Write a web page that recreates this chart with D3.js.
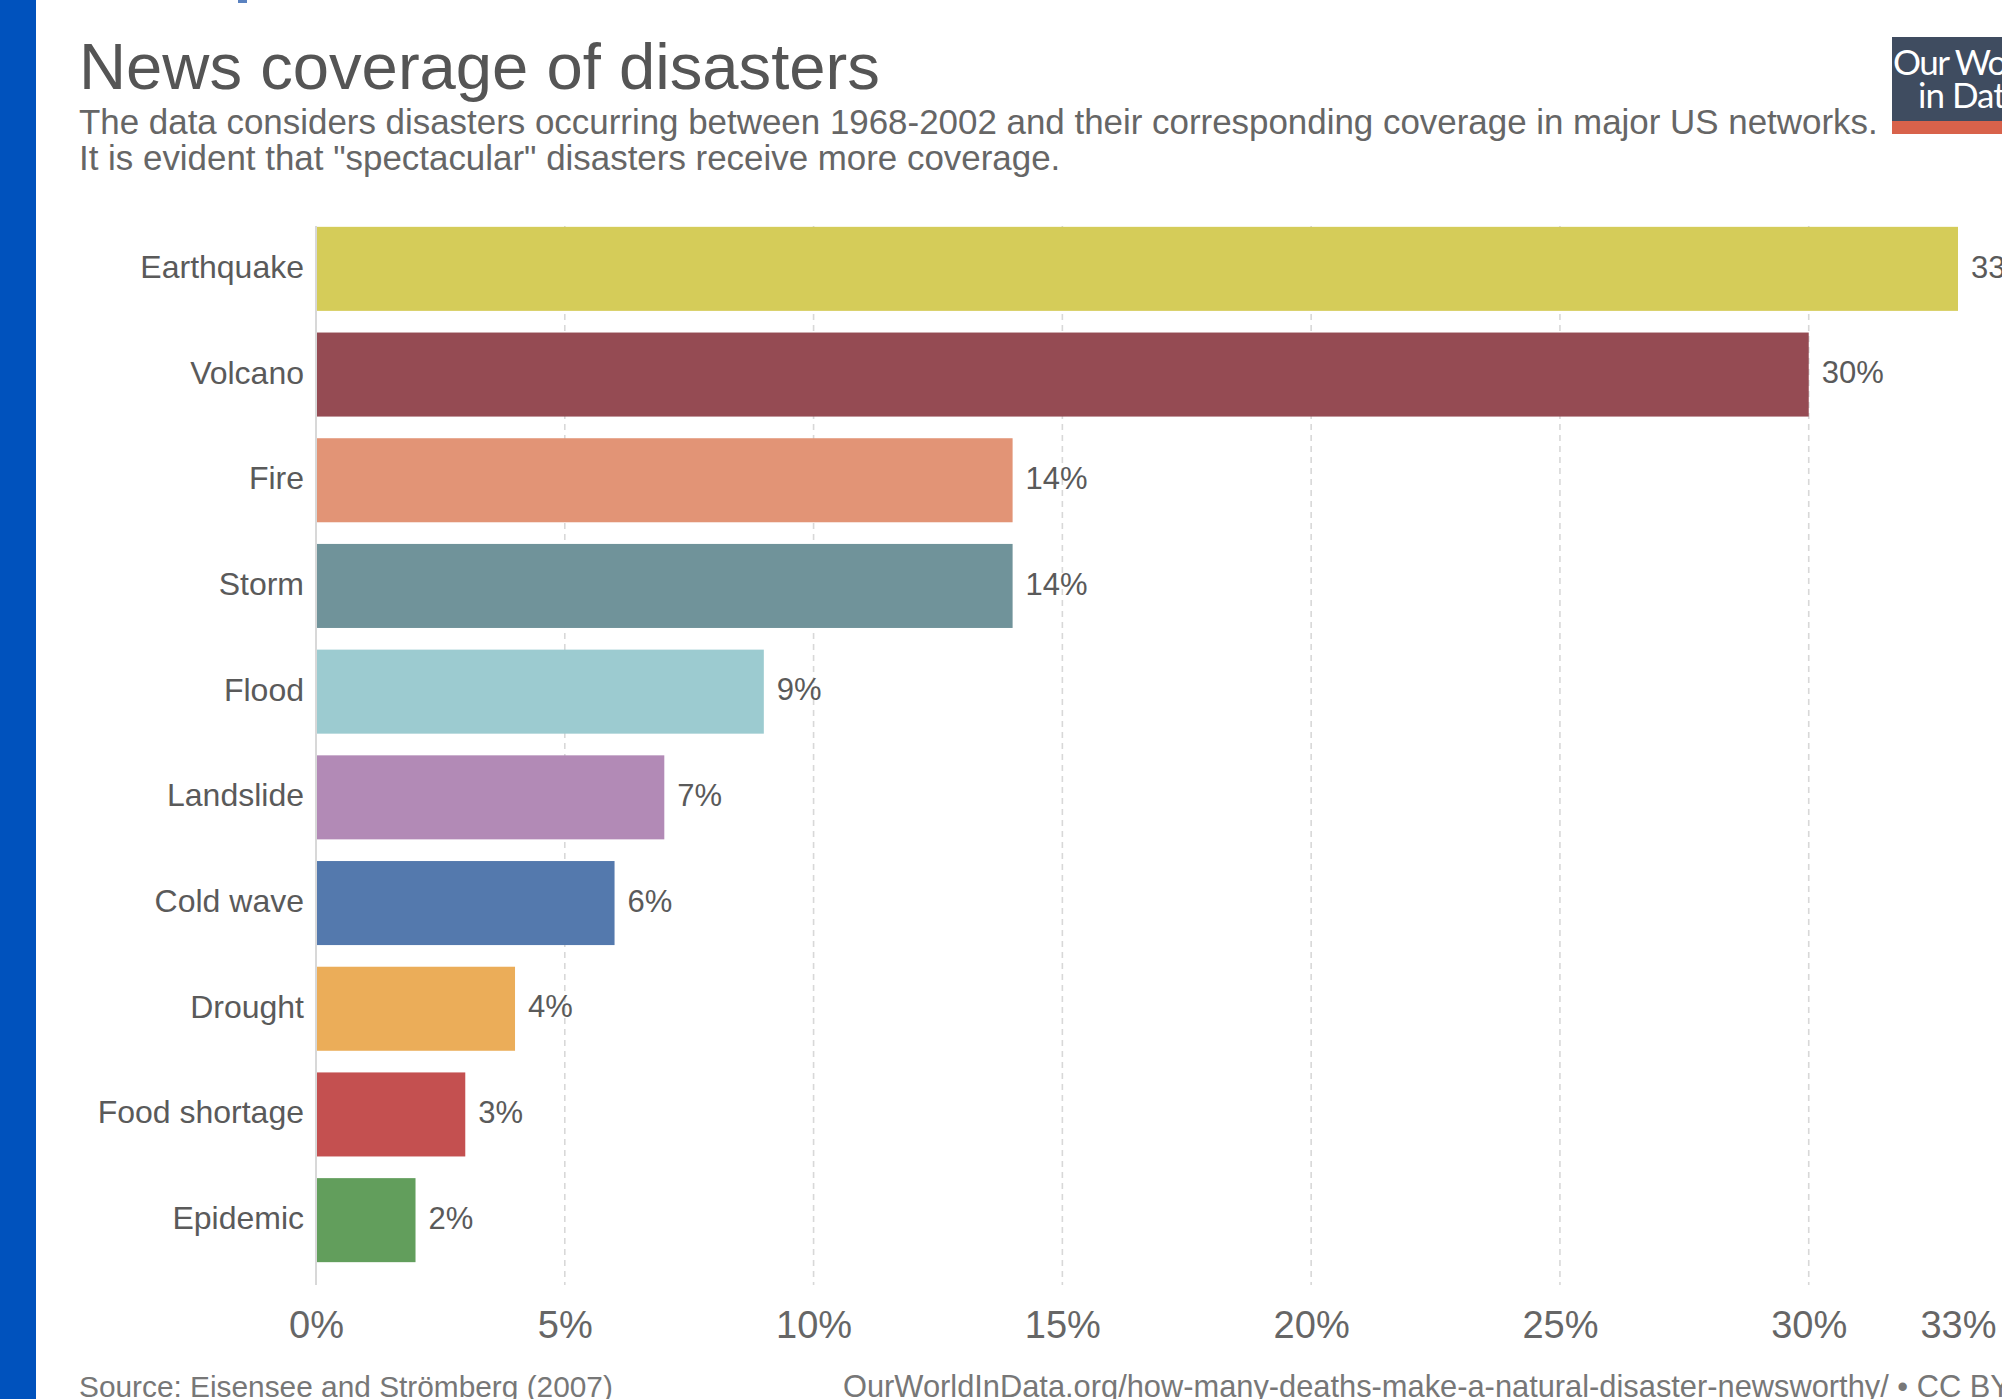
<!DOCTYPE html>
<html>
<head>
<meta charset="utf-8">
<script src="https://cdn.jsdelivr.net/npm/d3@7"></script>
<style>
  html, body { margin: 0; padding: 0; background: #fff; overflow: hidden; }
  svg { display: block; }
  text { font-family: "Liberation Sans", Arial, Helvetica, sans-serif; }
</style>
</head>
<body>
<svg id="chart" width="2002" height="1399"></svg>
<script>
// ---- data ----
const categories = ["Earthquake", "Volcano", "Fire", "Storm", "Flood", "Landslide", "Cold wave", "Drought", "Food shortage", "Epidemic"];
const coverage = [33, 30, 14, 14, 9, 7, 6, 4, 3, 2];
const barColors = ["#d5cc59", "#954b53", "#e29476", "#70939a", "#9ccbd0", "#b28ab6", "#5479ad", "#ebad59", "#c45050", "#629e5c"];
const tickValues = [0, 5, 10, 15, 20, 25, 30, 33];
const titleText = "News coverage of disasters";
const subtitleLines = [
  "The data considers disasters occurring between 1968-2002 and their corresponding coverage in major US networks.",
  "It is evident that \"spectacular\" disasters receive more coverage."
];
const sourceText = "Source: Eisensee and Strömberg (2007)";
const urlText = "OurWorldInData.org/how-many-deaths-make-a-natural-disaster-newsworthy/ • CC BY";

const svg = d3.select("#chart");

// fit a text element's font size so its rendered width equals target
function fitWidth(sel, target) {
  const node = sel.node();
  const fs = parseFloat(sel.attr("font-size"));
  const w = node.getComputedTextLength();
  if (w > 0) sel.attr("font-size", (fs * target / w).toFixed(2));
  return sel;
}

// left blue strip
svg.append("rect").attr("x", 0).attr("y", 0).attr("width", 36).attr("height", 1399).attr("fill", "#0052bd");
svg.append("rect").attr("x", 238).attr("y", 0).attr("width", 9).attr("height", 3).attr("fill", "#5a82c0");

// title
const title = svg.append("text").attr("x", 79).attr("y", 89).attr("font-size", 63)
  .attr("fill", "#555").text(titleText);
fitWidth(title, 801);

// subtitle
const sub1 = svg.append("text").attr("x", 79).attr("y", 134).attr("font-size", 30)
  .attr("fill", "#666").text(subtitleLines[0]);
fitWidth(sub1, 1799);
svg.append("text").attr("x", 79).attr("y", 170).attr("font-size", sub1.attr("font-size"))
  .attr("fill", "#666").text(subtitleLines[1]);

// logo
const logo = svg.append("g");
logo.append("rect").attr("x", 1892).attr("y", 37).attr("width", 200).attr("height", 84).attr("fill", "#3f4c60");
logo.append("rect").attr("x", 1892).attr("y", 121).attr("width", 200).attr("height", 13).attr("fill", "#d8624b");
logo.append("text").attr("x", 1893).attr("y", 75).attr("font-size", 35).attr("fill", "#fff")
  .attr("letter-spacing", -1.5).style("font-family", "Lato, 'Liberation Sans', sans-serif").text("Our World");
logo.append("text").attr("x", 1918).attr("y", 108).attr("font-size", 35).attr("fill", "#fff")
  .attr("letter-spacing", -1).style("font-family", "Lato, 'Liberation Sans', sans-serif").text("in Data");

// scales
const x = d3.scaleLinear().domain([0, 33]).range([316, 1958]);
const y = d3.scaleBand().domain(categories).range([216, 1273]).paddingInner(0.205).paddingOuter(0.1025);
const gridTop = 226, gridBottom = 1285;

// gridlines
svg.append("g").selectAll("line").data(tickValues.filter(d => d > 0 && d < 33)).join("line")
  .attr("x1", d => x(d)).attr("x2", d => x(d))
  .attr("y1", gridTop).attr("y2", gridBottom)
  .attr("stroke", "#d8d8d8").attr("stroke-width", 1.6).attr("stroke-dasharray", "6,5");

// bars
svg.append("g").selectAll("rect").data(categories).join("rect")
  .attr("x", x(0)).attr("y", d => y(d))
  .attr("width", (d, i) => x(coverage[i]) - x(0))
  .attr("height", y.bandwidth())
  .attr("fill", (d, i) => barColors[i]);

// y axis line
svg.append("line").attr("x1", x(0)).attr("x2", x(0)).attr("y1", gridTop).attr("y2", gridBottom)
  .attr("stroke", "#d8d8d8").attr("stroke-width", 2);

// y labels via axis
const yAxis = svg.append("g").attr("transform", `translate(${x(0) - 12},0)`)
  .call(d3.axisLeft(y).tickSize(0).tickPadding(0));
yAxis.select(".domain").remove();
yAxis.selectAll("text").attr("font-size", 32).attr("fill", "#5a5a5a")
  .style("font-family", "'Liberation Sans', Arial, sans-serif").attr("dy", "0.28em");

// value labels
svg.append("g").selectAll("text").data(categories).join("text")
  .attr("x", (d, i) => x(coverage[i]) + 13)
  .attr("y", d => y(d) + y.bandwidth() / 2)
  .attr("dy", "0.28em")
  .attr("font-size", 31).attr("fill", "#5a5a5a")
  .text((d, i) => coverage[i] + "%");

// x axis tick labels
const xAxis = svg.append("g").attr("transform", `translate(0,${1338})`)
  .call(d3.axisBottom(x).tickValues(tickValues).tickSize(0).tickPadding(0).tickFormat(d => d + "%"));
xAxis.select(".domain").remove();
xAxis.selectAll("text").attr("font-size", 38).attr("fill", "#666").attr("dy", 0)
  .style("font-family", "'Liberation Sans', Arial, sans-serif");

// footer
const src = svg.append("text").attr("x", 79).attr("y", 1397).attr("font-size", 29).attr("fill", "#777").text(sourceText);
fitWidth(src, 534);
const url = svg.append("text").attr("x", 843).attr("y", 1397).attr("font-size", 29)
  .attr("fill", "#777").text(urlText);
fitWidth(url, 1168);
</script>
</body>
</html>
